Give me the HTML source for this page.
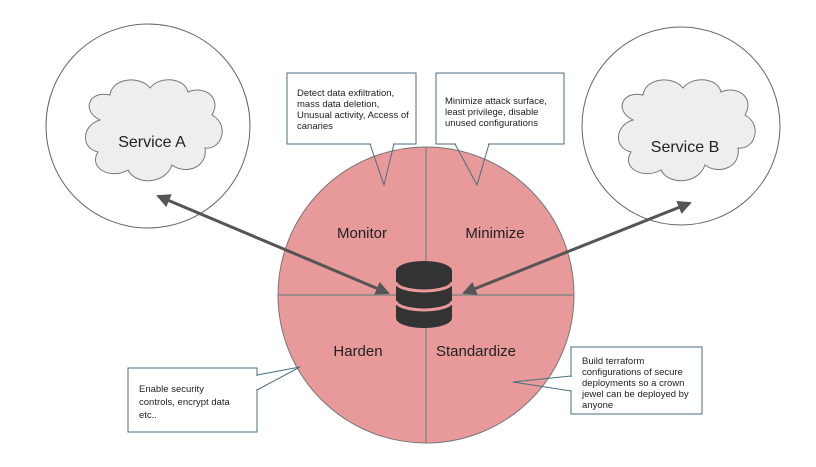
<!DOCTYPE html>
<html><head><style>
body{margin:0;background:#fff;}
svg{display:block;font-family:"Liberation Sans",sans-serif;}
</style></head><body>
<svg width="816" height="467" viewBox="0 0 816 467">
<defs>
<marker id="ah2" markerWidth="14" markerHeight="14" refX="12" refY="7" orient="auto-start-reverse" markerUnits="userSpaceOnUse"><path d="M0,0 L14,7 L0,14 z" fill="#555"/></marker>
</defs>
<circle cx="148" cy="126" r="102" fill="#fff" stroke="#666" stroke-width="1"/>
<circle cx="681" cy="126" r="99" fill="#fff" stroke="#666" stroke-width="1"/>
<g fill="#eeeeee" stroke="#777" stroke-width="1">
<path d="M100,120 C80,110 90,90 110,95 C112,78 140,75 150,88 C160,75 185,78 188,92 C205,85 222,98 212,115 C230,125 222,150 205,148 C208,168 185,175 172,165 C165,185 135,185 128,170 C110,180 88,168 98,152 C80,148 82,125 100,120 Z"/>
<path d="M633,120 C613,110 623,90 643,95 C645,78 673,75 683,88 C693,75 718,78 721,92 C738,85 755,98 745,115 C763,125 755,150 738,148 C741,168 718,175 705,165 C698,185 668,185 661,170 C643,180 621,168 631,152 C613,148 615,125 633,120 Z"/>
</g>
<text x="152" y="147" font-size="16" text-anchor="middle" fill="#222">Service A</text>
<text x="685" y="152" font-size="16" text-anchor="middle" fill="#222">Service B</text>
<circle cx="426" cy="295" r="148" fill="#e89a9a" stroke="#777" stroke-width="1"/>
<line x1="426" y1="147" x2="426" y2="443" stroke="#888" stroke-width="1.5"/>
<line x1="278" y1="295" x2="574" y2="295" stroke="#888" stroke-width="1.5"/>
<g font-size="15" fill="#222" text-anchor="middle">
<text x="362" y="238">Monitor</text>
<text x="495" y="238">Minimize</text>
<text x="358" y="356">Harden</text>
<text x="476" y="356">Standardize</text>
</g>
<line x1="158" y1="196" x2="388" y2="293" stroke="#555" stroke-width="3" marker-start="url(#ah2)" marker-end="url(#ah2)"/>
<line x1="690" y1="203" x2="464" y2="293" stroke="#555" stroke-width="3" marker-start="url(#ah2)" marker-end="url(#ah2)"/>
<g>
<path d="M396,271 A28,10 0 0 1 452,271 L452,318 A28,10 0 0 1 396,318 Z" fill="#333"/>
<path d="M396,282 A28,9 0 0 0 452,282" fill="none" stroke="#e89a9a" stroke-width="3"/>
<path d="M396,301 A28,9 0 0 0 452,301" fill="none" stroke="#e89a9a" stroke-width="3"/>
</g>
<g stroke="#4a6f82" stroke-width="1" fill="#fff">
<rect x="287" y="73" width="129" height="71"/>
<rect x="436" y="73" width="128" height="71"/>
<rect x="128" y="368" width="129" height="64"/>
<rect x="571" y="347" width="131" height="67"/>
</g>
<g stroke="#4a6f82" stroke-width="1" fill="none">
<polyline points="370,144 384,185 394,144"/>
<polyline points="455,144 477,185 489,144"/>
<polyline points="257,375 300,367 257,390"/>
<polyline points="571,391 513,382 571,376"/>
</g>
<g stroke="#fff" stroke-width="1.5">
<line x1="371" y1="144" x2="393" y2="144"/>
<line x1="456" y1="144" x2="488" y2="144"/>
<line x1="257" y1="376" x2="257" y2="389"/>
<line x1="571" y1="377" x2="571" y2="390"/>
</g>
<g font-size="9.5" fill="#222">
<text x="297" y="96">Detect data exfiltration,</text>
<text x="297" y="107">mass data deletion,</text>
<text x="297" y="118">Unusual activity, Access of</text>
<text x="297" y="129">canaries</text>
<text x="445" y="104">Minimize attack surface,</text>
<text x="445" y="115">least privilege, disable</text>
<text x="445" y="126">unused configurations</text>
<text x="139" y="392">Enable security</text>
<text x="139" y="405">controls, encrypt data</text>
<text x="139" y="418">etc..</text>
<text x="582" y="364">Build terraform</text>
<text x="582" y="375">configurations of secure</text>
<text x="582" y="386">deployments so a crown</text>
<text x="582" y="397">jewel can be deployed by</text>
<text x="582" y="408">anyone</text>
</g>
</svg>
</body></html>
